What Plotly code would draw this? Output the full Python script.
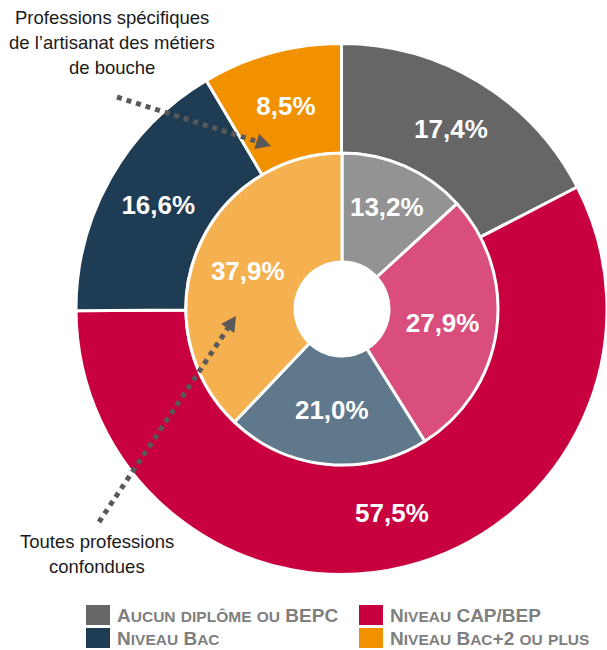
import math
import plotly.graph_objects as go

# ---- data ----
categories = ["Aucun diplôme ou BEPC", "Niveau CAP/BEP", "Niveau Bac", "Niveau Bac+2 ou plus"]
outer_values = [17.4, 57.5, 16.6, 8.5]   # Professions spécifiques de l'artisanat des métiers de bouche
inner_values = [13.2, 27.9, 21.0, 37.9]  # Toutes professions confondues
outer_colors = ["#666666", "#C8003F", "#1F3C55", "#F29100"]
inner_colors = ["#939393", "#DA4E7D", "#5F788B", "#F5B14F"]

W, H = 607, 650


def px(x):
    return x / W


def py(y):
    return 1 - y / H


def fmt(v):
    return f"{v:.1f}".replace(".", ",") + "%"


# pie geometry (pixels)
cx, cy = 342, 309
R_out, R_in, R_hole = 266, 156, 47
LABEL_SIZE = 26

fig = go.Figure()

fig.add_trace(go.Pie(
    values=outer_values, labels=categories, text=[fmt(v) for v in outer_values],
    textinfo="text", sort=False, direction="clockwise", rotation=0,
    hole=R_in / R_out,
    marker=dict(colors=outer_colors, line=dict(color="white", width=3)),
    textposition="inside", insidetextorientation="horizontal",
    textfont=dict(family="Liberation Sans", size=LABEL_SIZE, color="white", weight="bold"),
    domain=dict(x=[px(cx - R_out), min(1, px(cx + R_out))], y=[py(cy + R_out), py(cy - R_out)]),
    showlegend=False, hoverinfo="label+text", name="Métiers de bouche",
))

fig.add_trace(go.Pie(
    values=inner_values, labels=categories, text=[fmt(v) for v in inner_values],
    textinfo="text", sort=False, direction="clockwise", rotation=0,
    hole=R_hole / R_in,
    marker=dict(colors=inner_colors, line=dict(color="white", width=3)),
    textposition="inside", insidetextorientation="horizontal",
    textfont=dict(family="Liberation Sans", size=LABEL_SIZE, color="white", weight="bold"),
    domain=dict(x=[px(cx - R_in), px(cx + R_in)], y=[py(cy + R_in), py(cy - R_in)]),
    showlegend=False, hoverinfo="label+text", name="Toutes professions",
))

shapes = []
annotations = []

# ---- dotted arrows ----
arrow_color = "#595959"


def add_arrow(x0, y0, x1, y1, head_len=15, head_w=8):
    dx, dy = x1 - x0, y1 - y0
    L = math.hypot(dx, dy)
    ux, uy = dx / L, dy / L
    bx, by = x1 - ux * head_len, y1 - uy * head_len
    shapes.append(dict(type="line", xref="paper", yref="paper",
                       x0=px(x0), y0=py(y0), x1=px(bx), y1=py(by),
                       line=dict(color=arrow_color, width=5, dash="dot")))
    nx, ny = -uy, ux
    p1 = (bx + nx * head_w, by + ny * head_w)
    p2 = (bx - nx * head_w, by - ny * head_w)
    path = (f"M{px(x1)},{py(y1)} L{px(p1[0])},{py(p1[1])} "
            f"L{px(p2[0])},{py(p2[1])} Z")
    shapes.append(dict(type="path", xref="paper", yref="paper", path=path,
                       fillcolor=arrow_color, line=dict(width=0)))


add_arrow(117, 97, 271, 146)
add_arrow(99, 522, 236, 316)

# ---- callout texts (one annotation per line for exact spacing) ----
callouts = [
    (["Professions spécifiques", "de l’artisanat des métiers", "de bouche"], 112, [17, 42, 67]),
    (["Toutes professions", "confondues"], 97, [541, 566]),
]
for lines, x, ys in callouts:
    for line, y in zip(lines, ys):
        annotations.append(dict(
            text=line, x=px(x), y=py(y), xref="paper", yref="paper",
            xanchor="center", yanchor="middle", showarrow=False,
            font=dict(family="Liberation Sans", size=18.5, color="#1a1a1a")))


# ---- legend (small caps) ----
def small_caps(s, small=15.5):
    out = []
    for ch in s:
        if ch.isalpha() and ch.islower():
            out.append(f"<span style='font-size:{small}px'>{ch.upper()}</span>")
        else:
            out.append(ch)
    return "".join(out)


leg_pos = [(86, 605), (359, 605), (86, 628), (359, 628)]
for (lx, ly), cat, col in zip(leg_pos, categories, outer_colors):
    shapes.append(dict(type="rect", xref="paper", yref="paper",
                       x0=px(lx), x1=px(lx + 24), y0=py(ly + 20), y1=py(ly),
                       fillcolor=col, line=dict(width=0)))
    annotations.append(dict(
        text="<b>" + small_caps(cat) + "</b>", x=px(lx + 29), y=py(ly + 10.5),
        xref="paper", yref="paper", xanchor="left", yanchor="middle", showarrow=False,
        font=dict(family="Liberation Sans", size=19, color="#7F7F7F")))

fig.update_layout(
    width=W, height=H,
    margin=dict(l=0, r=0, t=0, b=0),
    paper_bgcolor="white", plot_bgcolor="white",
    shapes=shapes, annotations=annotations,
    uniformtext=dict(minsize=LABEL_SIZE, mode="show"),
    showlegend=False,
)

fig.write_html(
    "out.html",
    config={"displayModeBar": False},
    post_script="document.body.style.margin='0px';document.body.style.overflow='hidden';",
)
